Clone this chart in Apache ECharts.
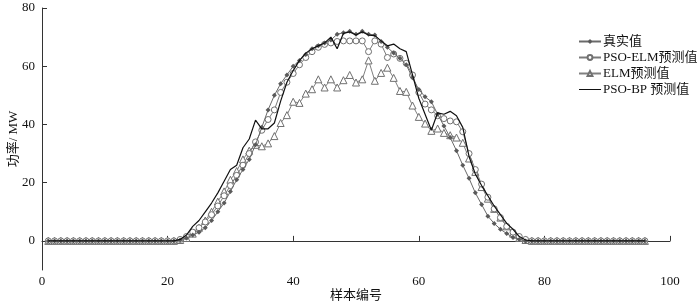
<!DOCTYPE html>
<html>
<head>
<meta charset="utf-8">
<script src="https://cdn.jsdelivr.net/npm/echarts@6/dist/echarts.min.js"></script>
<style>html,body{margin:0;padding:0;background:#fff;}#c{width:700px;height:302px;}</style>
</head>
<body>
<div id="c"></div>
<script>
const sampleNo = [1,2,3,4,5,6,7,8,9,10,11,12,13,14,15,16,17,18,19,20,21,22,23,24,25,26,27,28,29,30,31,32,33,34,35,36,37,38,39,40,41,42,43,44,45,46,47,48,49,50,51,52,53,54,55,56,57,58,59,60,61,62,63,64,65,66,67,68,69,70,71,72,73,74,75,76,77,78,79,80,81,82,83,84,85,86,87,88,89,90,91,92,93,94,95,96];

const actual = [0,0,0,0,0,0,0,0,0,0,0,0,0,0,0,0,0,0,0,0,
  0,0.3,1,2,3,4.5,7,10,13,17,21,24.5,28,33,39,45,50,54,57,60,62,64,66,67,68,69,71,71.5,72,71,72,71,70.7,68.5,66.5,64.5,62.7,60.5,56,52,49.5,47.8,43.5,39.5,35.5,31,26,21.5,16.5,12.5,8.5,6,4,2.5,1.2,0.5,0,0,
  0,0,0,0,0,0,0,0,0,0,0,0,0,0,0,0,0,0];

const psoElm = [0,0,0,0,0,0,0,0,0,0,0,0,0,0,0,0,0,0,0,0,
  0,0.5,1.5,3,4.5,6.5,9,12,15.5,19,22.5,26,30,34,38,41.7,45,51,54.5,57.5,60.5,63,65,66.5,67.5,68,68.5,68.7,68.7,68.7,68.7,65,68.7,67.6,63,64.2,62.7,61,57,51,47,45,43,42,41.2,40.9,37.5,30,24.5,19.5,15,11,8,5,3,1.5,0.5,0,
  0,0,0,0,0,0,0,0,0,0,0,0,0,0,0,0,0,0];

const elm = [0,0,0,0,0,0,0,0,0,0,0,0,0,0,0,0,0,0,0,0,
  0,0.3,1,2.5,4.5,7,10,13.5,17,21,24,28,31,33,32.5,33.5,36,40.5,43.2,47.8,47.4,50.6,52.1,55.5,52.7,55.5,52.7,55.2,57,54.4,55.5,62,55,57.7,59.5,56,51.5,51.2,46.5,42.6,40.3,37.8,38.6,37.1,36.3,35.5,33.7,28.3,23.7,18.5,14.5,11,8,5,2.5,1,0.3,0,
  0,0,0,0,0,0,0,0,0,0,0,0,0,0,0,0,0,0];

const psoBp = [0,0,0,0,0,0,0,0,0,0,0,0,0,0,0,0,0,0,0,0,
  0,0.5,2,5,7,10,13,16.5,20.5,24.5,26,32,35,41.5,38.5,38.5,40.5,48,54.5,58.5,62,64.5,66,67,68,70,66,71.3,71.8,70.7,71.8,70.7,70.5,68.7,67,67.6,66,65,57,49,43.5,38,44,43.5,44.5,43,39,29,23,19,15.5,12,9,6,4,1.5,0.3,0,
  0,0,0,0,0,0,0,0,0,0,0,0,0,0,0,0,0,0];

const seriesNames = ['真实值','PSO-ELM预测值','ELM预测值','PSO-BP 预测值'];
const xTicks = [0,20,40,60,80,100];
const yTicks = [0,20,40,60,80];

const FONT = '"Liberation Serif","Noto Sans CJK SC",serif';
const pair = arr => sampleNo.map((x, k) => [x, arr[k]]);

const chart = echarts.init(document.getElementById('c'), null, {renderer: 'canvas'});
chart.setOption({
  animation: false,
  backgroundColor: '#fff',
  textStyle: {fontFamily: FONT},
  grid: {left: 42, right: 30, top: 8, bottom: 32, containLabel: false, outerBoundsMode: 'none'},
  legend: {
    orient: 'vertical', left: 573, top: 30,
    itemWidth: 22, itemHeight: 6, itemGap: 3,
    textStyle: {fontFamily: FONT, fontSize: 13, color: '#111', padding: [0,0,0,-3]},
    data: [
      {name: seriesNames[0]},
      {name: seriesNames[1]},
      {name: seriesNames[2]},
      {name: seriesNames[3], itemStyle: {opacity: 0}, lineStyle: {width: 1}}
    ]
  },
  xAxis: {
    type: 'value', min: 0, max: 100, interval: 20,
    name: '样本编号', nameLocation: 'middle', nameGap: 19, nameMoveOverlap: false,
    nameTextStyle: {fontFamily: FONT, fontSize: 13, color: '#111'},
    axisLine: {lineStyle: {color: '#333', width: 1}},
    axisTick: {inside: true, length: 5, lineStyle: {color: '#333'}},
    axisLabel: {fontFamily: FONT, fontSize: 13, color: '#111', margin: 5, customValues: xTicks},
    splitLine: {show: false}
  },
  yAxis: {
    type: 'value', min: -10, max: 80,
    name: '功率/ MW', nameLocation: 'middle', nameGap: 22, nameRotate: 90, nameMoveOverlap: false,
    nameTextStyle: {fontFamily: FONT, fontSize: 13, color: '#111'},
    axisLine: {show: true, lineStyle: {color: '#333', width: 1}},
    axisTick: {show: true, inside: true, length: 5, lineStyle: {color: '#333'}, customValues: yTicks},
    axisLabel: {fontFamily: FONT, fontSize: 13, color: '#111', margin: 7, customValues: yTicks},
    splitLine: {show: false}
  },
  series: [
    {name: seriesNames[0], type: 'line', data: pair(actual), symbol: 'diamond', symbolSize: 5,
     showAllSymbol: true, z: 4,
     lineStyle: {color: '#6a6a6a', width: 1}, itemStyle: {color: '#5a5a5a', borderWidth: 0}},
    {name: seriesNames[1], type: 'line', data: pair(psoElm), symbol: 'circle', symbolSize: 6,
     showAllSymbol: true, z: 3,
     lineStyle: {color: '#7a7a7a', width: 1}, itemStyle: {color: '#fff', borderColor: '#707070', borderWidth: 1}},
    {name: seriesNames[2], type: 'line', data: pair(elm), symbol: 'triangle', symbolSize: 7,
     showAllSymbol: true, z: 2,
     lineStyle: {color: '#808080', width: 1}, itemStyle: {color: '#fff', borderColor: '#707070', borderWidth: 1}},
    {name: seriesNames[3], type: 'line', data: pair(psoBp), symbol: 'none', z: 5,
     lineStyle: {color: '#111', width: 1.2}, itemStyle: {color: '#111'}}
  ]
});
</script>
</body>
</html>
